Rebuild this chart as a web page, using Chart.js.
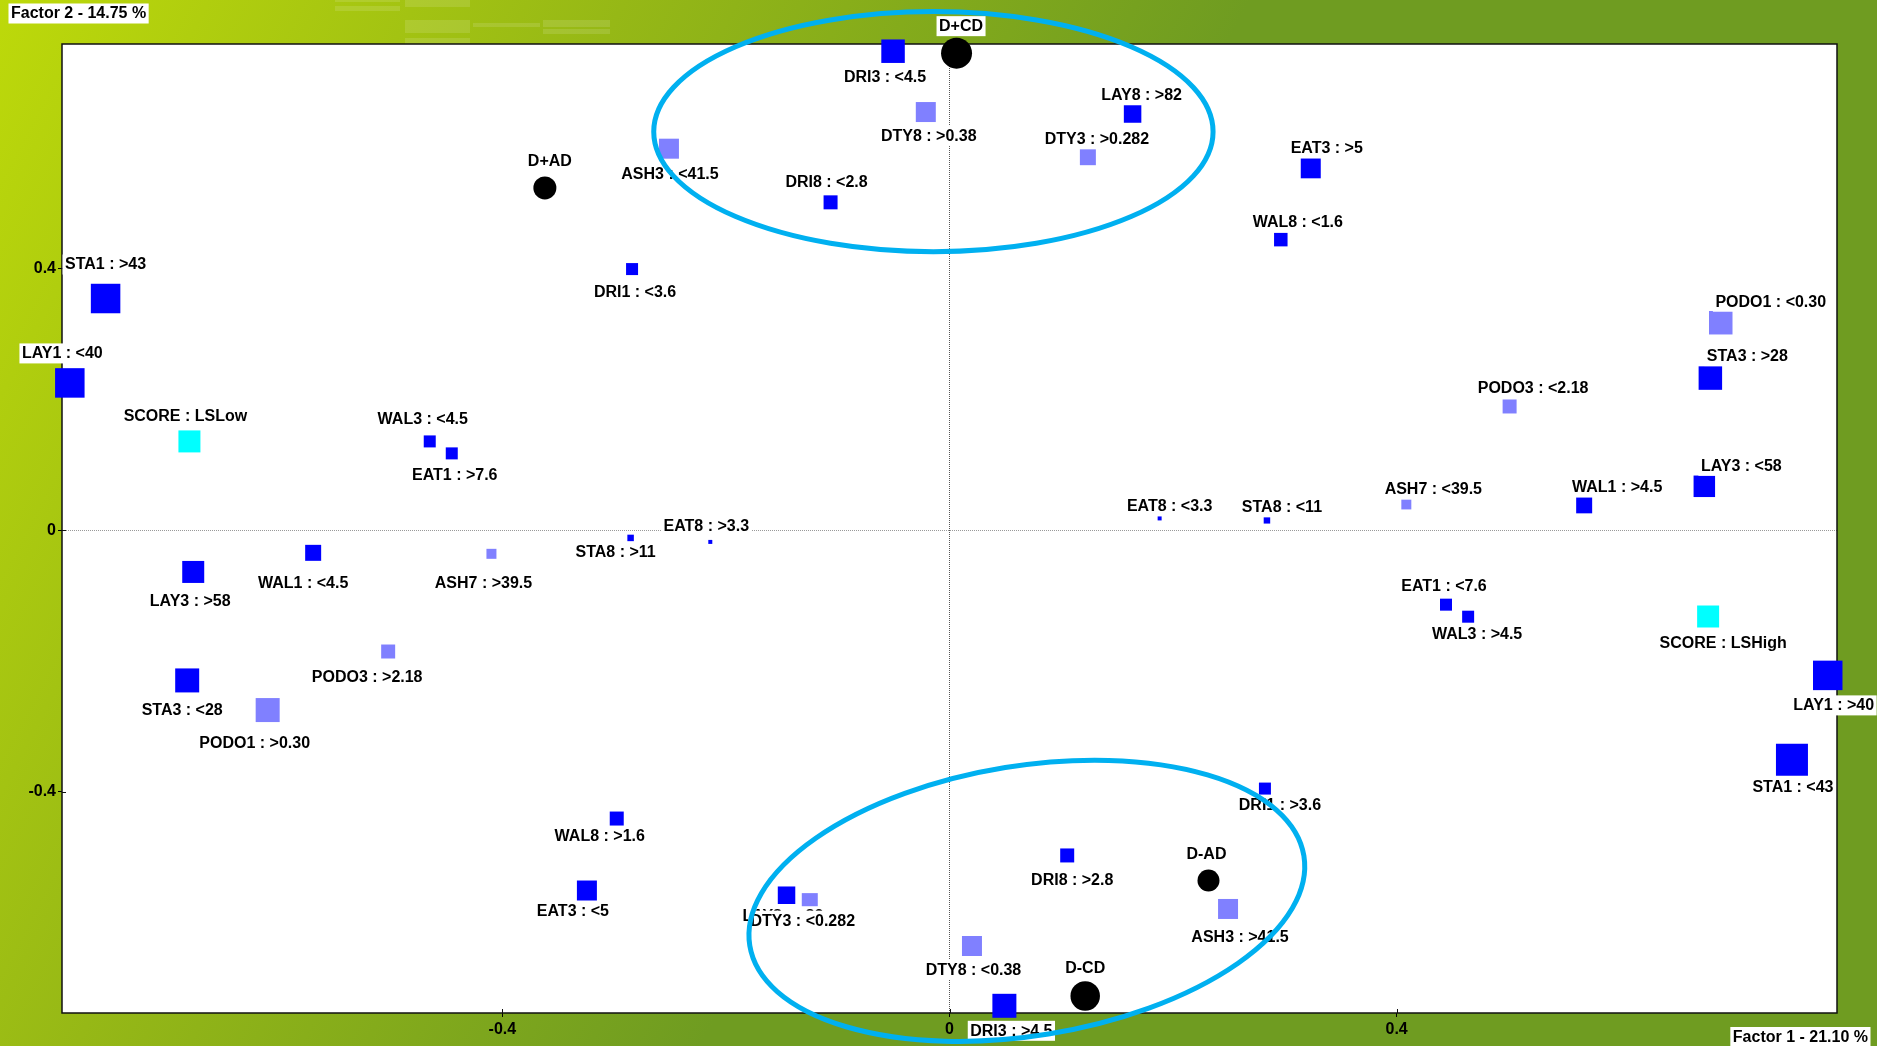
<!DOCTYPE html>
<html lang="en">
<head>
  <meta charset="UTF-8">
  <title>Factor map</title>
  <script src="https://cdn.jsdelivr.net/npm/chart.js"></script>
  <style>
    html, body { margin: 0; padding: 0; overflow: hidden; background: #6f9c21; }
    #wrap { position: relative; width: 1877px; height: 1046px; }
  </style>
</head>
<body>
  <div id="wrap"><canvas id="mca"></canvas></div>

  <script>
    // category labels, coordinates on factor 1 / factor 2, and kind of point
    const labels = ['STA1 : >43', 'D+AD', 'ASH3 : <41.5', 'DRI1 : <3.6', 'DRI3 : <4.5', 'D+CD', 'DTY8 : >0.38', 'LAY8 : >82',
      'DTY3 : >0.282', 'DRI8 : <2.8', 'WAL8 : <1.6', 'EAT3 : >5', 'PODO1 : <0.30', 'LAY1 : <40', 'SCORE : LSLow', 'WAL3 : <4.5',
      'EAT1 : >7.6', 'WAL1 : <4.5', 'LAY3 : >58', 'ASH7 : >39.5', 'STA8 : >11', 'EAT8 : >3.3', 'PODO3 : >2.18', 'STA3 : <28',
      'PODO1 : >0.30', 'EAT8 : <3.3', 'STA8 : <11', 'STA3 : >28', 'PODO3 : <2.18', 'LAY3 : <58', 'ASH7 : <39.5', 'WAL1 : >4.5',
      'EAT1 : <7.6', 'WAL3 : >4.5', 'SCORE : LSHigh', 'LAY1 : >40', 'WAL8 : >1.6', 'EAT3 : <5', 'LAY8 : <82', 'DTY3 : <0.282',
      'DRI8 : >2.8', 'D-AD', 'ASH3 : >41.5', 'DTY8 : <0.38', 'D-CD', 'DRI3 : >4.5', 'DRI1 : >3.6', 'STA1 : <43'];
    const factor1 = [-0.755, -0.362, -0.251, -0.284, -0.0505, 0.0063, -0.0212, 0.1638,
      0.1238, -0.1064, 0.2964, 0.3232, 0.690, -0.787, -0.680, -0.465,
      -0.4453, -0.5693, -0.6766, -0.4098, -0.2853, -0.214, -0.5022, -0.682,
      -0.610, 0.188, 0.284, 0.6807, 0.5011, 0.6753, 0.4087, 0.5678,
      0.4442, 0.464, 0.6787, 0.7857, -0.2977, -0.3244, -0.1458, -0.125,
      0.1053, 0.2317, 0.2492, 0.0201, 0.1214, 0.0491, 0.2822, 0.7537];
    const factor2 = [0.354, 0.523, 0.583, 0.399, 0.732, 0.729, 0.639, 0.636,
      0.570, 0.501, 0.444, 0.553, 0.317, 0.225, 0.1356, 0.1356,
      0.1173, -0.0347, -0.0639, -0.0362, -0.0119, -0.018, -0.1855, -0.2297,
      -0.275, 0.0179, 0.015, 0.2324, 0.189, 0.067, 0.0393, 0.0379,
      -0.1139, -0.1323, -0.132, -0.222, -0.4408, -0.5508, -0.558, -0.567,
      -0.4972, -0.5356, -0.579, -0.6356, -0.712, -0.727, -0.395, -0.351];
    // A = active category, S = supplementary, C = score, G = group centroid
    const kind = ['A', 'G', 'S', 'A', 'A', 'G', 'S', 'A',
      'S', 'A', 'A', 'A', 'S', 'A', 'C', 'A',
      'A', 'A', 'A', 'S', 'A', 'A', 'S', 'A',
      'S', 'A', 'A', 'A', 'S', 'A', 'S', 'A',
      'A', 'A', 'C', 'A', 'A', 'A', 'A', 'S',
      'A', 'G', 'S', 'S', 'G', 'A', 'A', 'A'];
    const xTicks = [-0.4, 0, 0.4];
    const yTicks = [-0.4, 0, 0.4];
    const axisX = 'Factor 1 - 21.10 %';
    const axisY = 'Factor 2 - 14.75 %';

    // look
    const kindColor = { A: '#0000ff', S: '#8080ff', C: '#00ffff', G: '#000000' };
    const markerPx = [29.5, 23, 20, 12, 23.5, 31, 20, 17.5,
      16, 14, 13.5, 20, 23.5, 29.5, 22, 12,
      12, 16, 22, 10, 6.5, 4, 14, 24,
      24, 4, 6.5, 23.5, 14, 21.5, 10, 16,
      12, 12, 22, 29.5, 14, 20, 17.5, 16,
      14, 22, 20, 20, 29.5, 24, 12, 32];
    const labelShift = [[0, -34], [5, -27], [1, 25], [3, 23], [-8, 26], [4.5, -27], [3, 24], [9, -19],
      [9, -18], [-4, -20], [17, -17.5], [16, -20], [50, -21], [-7.5, -29.5], [-4, -25.5], [-7, -22],
      [3, 22], [-10, 30], [-3, 29.5], [-8, 29], [-15, 14], [-4, -16], [-21, 26], [-5, 29.5],
      [-13, 33.5], [10, -12.5], [15, -13], [37, -22], [23.5, -18], [37, -20.5], [27, -15], [33, -18],
      [-2, -19], [9, 17], [15, 27], [6, 30], [-17, 18], [-14, 21], [-3.6, 21], [-7, 19.5],
      [5, 25], [-2, -26.5], [12, 28], [1.5, 24], [0, -28], [7, 25], [15, 17], [1, 27.5]];
    // clusters circled on the map (data units, tilt in degrees)
    const ellipses = [
      { cx: -0.0144, cy: 0.609, rx: 0.2502, ry: 0.1835, tilt: 0 },
      { cx: 0.0692, cy: -0.5665, rx: 0.2511, ry: 0.2063, tilt: -9.2 }
    ];
    const FONT = 'bold 16px "Liberation Sans", Arial, sans-serif';

    const backdrop = {
      id: 'backdrop',
      beforeDraw(chart) {
        const { ctx, width, height, chartArea: a } = chart;
        ctx.save();
        const g = ctx.createLinearGradient(0, 0, 980, 515);
        g.addColorStop(0, '#bdd90a');
        g.addColorStop(0.5, '#96b816');
        g.addColorStop(1, '#6f9c21');
        ctx.fillStyle = g;
        ctx.fillRect(0, 0, width, height);
        // faint decoration strips in the top band
        ctx.fillStyle = 'rgba(255,255,255,0.12)';
        [[335, 0, 65, 2], [335, 6, 65, 5], [405, 0, 65, 7], [405, 20, 65, 13], [405, 38, 65, 6],
         [473, 23, 67, 4], [543, 20, 67, 7], [543, 29, 67, 5]].forEach(r => ctx.fillRect(...r));
        ctx.fillStyle = '#fff';
        ctx.fillRect(a.left, a.top, a.right - a.left, a.bottom - a.top);
        ctx.restore();
      }
    };

    const frame = {
      id: 'frame',
      beforeDatasetsDraw(chart) {
        const { ctx, chartArea: a, scales } = chart;
        ctx.save();
        ctx.strokeStyle = '#111';
        ctx.lineWidth = 1.5;
        ctx.strokeRect(a.left, a.top, a.right - a.left, a.bottom - a.top);
        // inner halves of the tick marks
        ctx.lineWidth = 1;
        ctx.beginPath();
        xTicks.forEach(v => {
          const px = Math.round(scales.x.getPixelForValue(v)) + 0.5;
          ctx.moveTo(px, a.bottom); ctx.lineTo(px, a.bottom - 4);
        });
        yTicks.forEach(v => {
          const py = Math.round(scales.y.getPixelForValue(v)) + 0.5;
          ctx.moveTo(a.left, py); ctx.lineTo(a.left + 4, py);
        });
        ctx.stroke();
        ctx.restore();
      }
    };

    function boxedText(ctx, text, x, y, align) {
      const w = ctx.measureText(text).width;
      let left = x - w / 2;
      if (align === 'left') left = x;
      if (align === 'right') left = x - w;
      ctx.fillStyle = '#fff';
      ctx.fillRect(left - 2.5, y - 10, w + 5, 20);
      ctx.fillStyle = '#000';
      ctx.textAlign = align;
      ctx.fillText(text, x, y + 0.5);
    }

    const annotate = {
      id: 'annotate',
      afterDatasetsDraw(chart) {
        const { ctx, scales } = chart;
        const meta = chart.getDatasetMeta(0);
        ctx.save();
        ctx.font = FONT;
        ctx.textBaseline = 'middle';
        meta.data.forEach((pt, i) => {
          const [dx, dy] = labelShift[i];
          boxedText(ctx, labels[i], pt.x + dx, pt.y + dy, 'center');
        });

        ctx.strokeStyle = '#00b0f0';
        ctx.lineWidth = 5;
        ellipses.forEach(e => {
          const cx = scales.x.getPixelForValue(e.cx);
          const cy = scales.y.getPixelForValue(e.cy);
          const rx = scales.x.getPixelForValue(e.cx + e.rx) - cx;
          const ry = cy - scales.y.getPixelForValue(e.cy + e.ry);
          ctx.beginPath();
          ctx.ellipse(cx, cy, rx, ry, e.tilt * Math.PI / 180, 0, 2 * Math.PI);
          ctx.stroke();
        });

        // axis captions in the corners
        ctx.font = FONT;
        boxedText(ctx, axisY, 11, 13.5, 'left');
        boxedText(ctx, axisX, 1868, 1037, 'right');
        ctx.restore();
      }
    };

    const tickFont = { family: '"Liberation Sans", Arial, sans-serif', size: 16, weight: 'bold' };

    new Chart(document.getElementById('mca'), {
      type: 'scatter',
      data: {
        datasets: [{
          data: factor1.map((x, i) => ({ x, y: factor2[i] })),
          pointStyle: kind.map(k => k === 'G' ? 'circle' : 'rect'),
          pointRadius: markerPx.map((s, i) => kind[i] === 'G' ? s / 2 : s * Math.SQRT1_2),
          pointHoverRadius: markerPx.map((s, i) => kind[i] === 'G' ? s / 2 : s * Math.SQRT1_2),
          pointBackgroundColor: kind.map(k => kindColor[k]),
          pointBorderWidth: 0,
          clip: false
        }]
      },
      options: {
        responsive: true,
        maintainAspectRatio: false,
        animation: false,
        events: [],
        layout: { padding: { left: 0, right: 40, top: 44, bottom: 0 }, autoPadding: false },
        plugins: { legend: { display: false }, tooltip: { enabled: false } },
        scales: {
          x: {
            type: 'linear',
            min: -0.794,
            max: 0.794,
            afterFit: s => { s.height = 33; },
            afterBuildTicks: s => { s.ticks = xTicks.map(v => ({ value: v })); },
            grid: {
              color: c => c.tick && c.tick.value === 0 ? '#555' : 'rgba(0,0,0,0)',
              lineWidth: 1,
              tickLength: 4,
              tickColor: '#000'
            },
            border: { display: false, dash: [1, 1] },
            ticks: { font: tickFont, color: '#000', padding: 3, callback: v => String(v) }
          },
          y: {
            type: 'linear',
            min: -0.738,
            max: 0.743,
            afterFit: s => { s.width = 62; },
            afterBuildTicks: s => { s.ticks = yTicks.map(v => ({ value: v })); },
            grid: {
              color: c => c.tick && c.tick.value === 0 ? '#999' : 'rgba(0,0,0,0)',
              lineWidth: 1,
              tickLength: 4,
              tickColor: '#000'
            },
            border: { display: false, dash: [1, 1] },
            ticks: { font: tickFont, color: '#000', padding: 2, callback: v => String(v) }
          }
        }
      },
      plugins: [backdrop, frame, annotate]
    });
  </script>
</body>
</html>
